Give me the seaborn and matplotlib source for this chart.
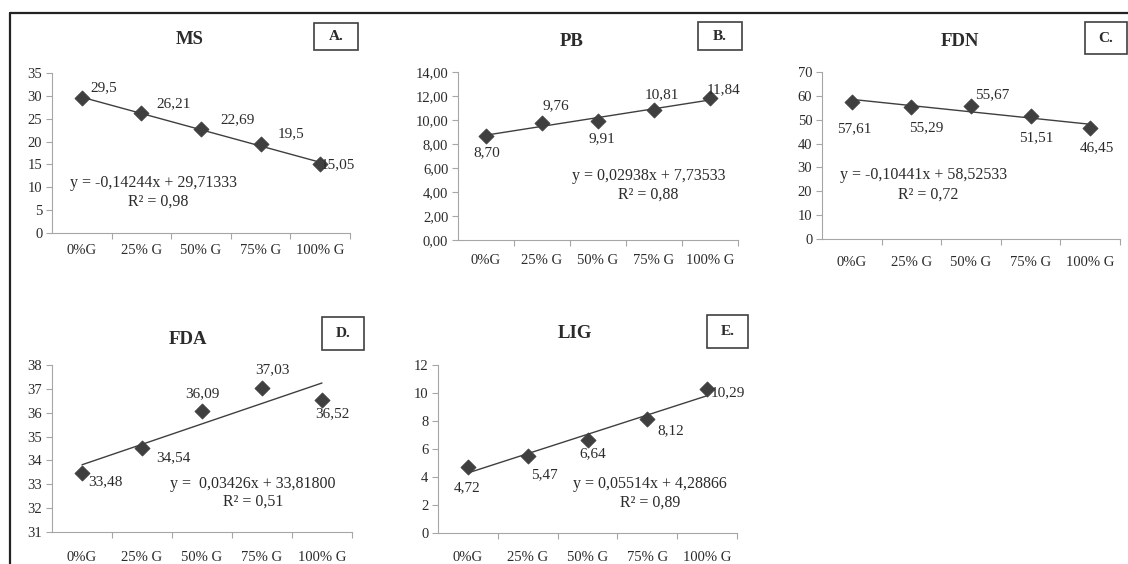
import seaborn as sns
import matplotlib.pyplot as plt
import pandas as pd
import numpy as np
from matplotlib.lines import Line2D
from matplotlib.patches import Rectangle

# Chart data
categories = ["0%G", "25% G", "50% G", "75% G", "100% G"]

ms_vals = [29.5, 26.21, 22.69, 19.5, 15.05]
pb_vals = [8.70, 9.76, 9.91, 10.81, 11.84]
fdn_vals = [57.61, 55.29, 55.67, 51.51, 46.45]
fda_vals = [33.48, 34.54, 36.09, 37.03, 36.52]
lig_vals = [4.72, 5.47, 6.64, 8.12, 10.29]

ms_labels = ["29,5", "26,21", "22,69", "19,5", "15,05"]
pb_labels = ["8,70", "9,76", "9,91", "10,81", "11,84"]
fdn_labels = ["57,61", "55,29", "55,67", "51,51", "46,45"]
fda_labels = ["33,48", "34,54", "36,09", "37,03", "36,52"]
lig_labels = ["4,72", "5,47", "6,64", "8,12", "10,29"]

ms_yticks = [0, 5, 10, 15, 20, 25, 30, 35]
pb_yticks = [0, 2, 4, 6, 8, 10, 12, 14]
fdn_yticks = [0, 10, 20, 30, 40, 50, 60, 70]
fda_yticks = [31, 32, 33, 34, 35, 36, 37, 38]
lig_yticks = [0, 2, 4, 6, 8, 10, 12]

ms_eq = ["y = -0,14244x + 29,71333", "R² = 0,98"]
pb_eq = ["y = 0,02938x + 7,73533", "R² = 0,88"]
fdn_eq = ["y = -0,10441x + 58,52533", "R² = 0,72"]
fda_eq = ["y =  0,03426x + 33,81800", "R² = 0,51"]
lig_eq = ["y = 0,05514x + 4,28866", "R² = 0,89"]

sns.set_theme(style="white")
plt.rcParams['font.family'] = ['Liberation Serif', 'DejaVu Serif']

W, H = 1128, 564
fig = plt.figure(figsize=(W / 100, H / 100), dpi=100)
fig.patch.set_facecolor("white")

MARK = "#3f3f3f"
AXC = "#a6a6a6"
TXT = "#2b2b2b"


def px_axes(x0, y0, x1, y1):
    # pixel box (top-left origin) -> figure axes
    return fig.add_axes([x0 / W, 1 - y1 / H, (x1 - x0) / W, (y1 - y0) / H])


# layout per panel: axes box, title pos, letter box, label offsets, equation pos
panels = [
    dict(title="MS", letter="A.", vals=ms_vals, labels=ms_labels, yticks=ms_yticks,
         yfmt="{:d}", eq=ms_eq, ax=(52, 73, 350, 233), tpos=(190, 40),
         box=(314, 23, 358, 50), xpad=8,
         offs=[(22, 10), (32, 9), (37, 10), (30, 10), (18, 0)],
         eqpos=[(0.34, 0.31), (0.355, 0.195)]),
    dict(title="PB", letter="B.", vals=pb_vals, labels=pb_labels, yticks=pb_yticks,
         yfmt="{:.2f}", eq=pb_eq, ax=(458, 72, 738, 240), tpos=(572, 42),
         box=(698, 22, 742, 50), xpad=10,
         offs=[(1, -17), (14, 17), (4, -18), (8, 16), (14, 8)],
         eqpos=[(0.68, 0.38), (0.68, 0.268)]),
    dict(title="FDN", letter="C.", vals=fdn_vals, labels=fdn_labels, yticks=fdn_yticks,
         yfmt="{:d}", eq=fdn_eq, ax=(822, 72, 1120, 239), tpos=(960, 42),
         box=(1085, 22, 1127, 54), xpad=12,
         offs=[(2, -27), (15, -21), (21, 11), (6, -22), (7, -20)],
         eqpos=[(0.34, 0.383), (0.356, 0.263)]),
    dict(title="FDA", letter="D.", vals=fda_vals, labels=fda_labels, yticks=fda_yticks,
         yfmt="{:d}", eq=fda_eq, ax=(52, 365, 352, 532), tpos=(188, 340),
         box=(322, 317, 364, 350), xpad=14,
         offs=[(23, -9), (31, -10), (0, 17), (10, 18), (10, -13)],
         eqpos=[(0.67, 0.287), (0.67, 0.18)]),
    dict(title="LIG", letter="E.", vals=lig_vals, labels=lig_labels, yticks=lig_yticks,
         yfmt="{:d}", eq=lig_eq, ax=(438, 365, 737, 533), tpos=(575, 334),
         box=(707, 315, 748, 348), xpad=13,
         offs=[(-1, -21), (17, -18), (5, -14), (23, -11), (21, -4)],
         eqpos=[(0.71, 0.29), (0.71, 0.18)]),
]

for p in panels:
    ax = px_axes(*p["ax"])
    df = pd.DataFrame({"pos": np.arange(len(categories)), "val": p["vals"]})

    # linear trendline + diamond markers
    sns.regplot(data=df, x="pos", y="val", scatter=False, ci=None, truncate=True,
                line_kws=dict(color=MARK, lw=1.0), ax=ax)
    sns.scatterplot(data=df, x="pos", y="val", marker="D", s=60, color=MARK,
                    edgecolor=MARK, linewidth=0.5, zorder=3, ax=ax)

    for i, (v, lab) in enumerate(zip(p["vals"], p["labels"])):
        ax.annotate(lab, (i, v), xytext=p["offs"][i], textcoords="offset pixels",
                    ha="center", va="center", fontsize=11, color=TXT)

    ax.text(*p["eqpos"][0], p["eq"][0], transform=ax.transAxes, ha="center",
            va="center", fontsize=11.5, color=TXT)
    ax.text(*p["eqpos"][1], p["eq"][1], transform=ax.transAxes, ha="center",
            va="center", fontsize=11.5, color=TXT)

    ax.set_xlim(-0.5, len(categories) - 0.5)
    ax.set_ylim(p["yticks"][0], p["yticks"][-1])
    ax.set_xticks(range(len(categories)))
    ax.set_xticklabels(categories)
    ax.set_xticks(np.arange(0.5, len(categories), 1.0), minor=True)
    ax.set_yticks(p["yticks"])
    ax.set_yticklabels([p["yfmt"].format(t).replace(".", ",") for t in p["yticks"]])
    ax.set_xlabel("")
    ax.set_ylabel("")
    ax.tick_params(axis="x", which="major", length=0, pad=p["xpad"], labelsize=10.5,
                   colors=TXT)
    ax.tick_params(axis="x", which="minor", bottom=True, length=4, width=0.8, color=AXC)
    ax.tick_params(axis="y", left=True, length=4, width=0.8, color=AXC, pad=3,
                   labelsize=10.5, labelcolor=TXT)
    for side in ["top", "right"]:
        ax.spines[side].set_visible(False)
    for side in ["left", "bottom"]:
        ax.spines[side].set_color(AXC)
        ax.spines[side].set_linewidth(0.8)
    ax.set_facecolor("none")
    ax.grid(False)

    # panel title and lettered box
    fig.text(p["tpos"][0] / W, 1 - p["tpos"][1] / H, p["title"], ha="center",
             va="center", fontsize=13.5, fontweight="bold", color=TXT)
    bx0, by0, bx1, by1 = p["box"]
    fig.add_artist(Rectangle((bx0 / W, 1 - by1 / H), (bx1 - bx0) / W, (by1 - by0) / H,
                             transform=fig.transFigure, fill=False,
                             edgecolor="#404040", lw=1.2))
    fig.text((bx0 + bx1) / 2 / W, 1 - (by0 + by1) / 2 / H, p["letter"], ha="center",
             va="center", fontsize=11, fontweight="bold", color=TXT)

# outer frame (top and left edges)
fig.add_artist(Line2D([10 / W, 1.0], [1 - 13 / H, 1 - 13 / H], transform=fig.transFigure,
                      color="#222222", lw=1.6))
fig.add_artist(Line2D([10 / W, 10 / W], [1 - 13 / H, 0.0], transform=fig.transFigure,
                      color="#222222", lw=1.6))

fig.savefig("out.png", dpi=100)
